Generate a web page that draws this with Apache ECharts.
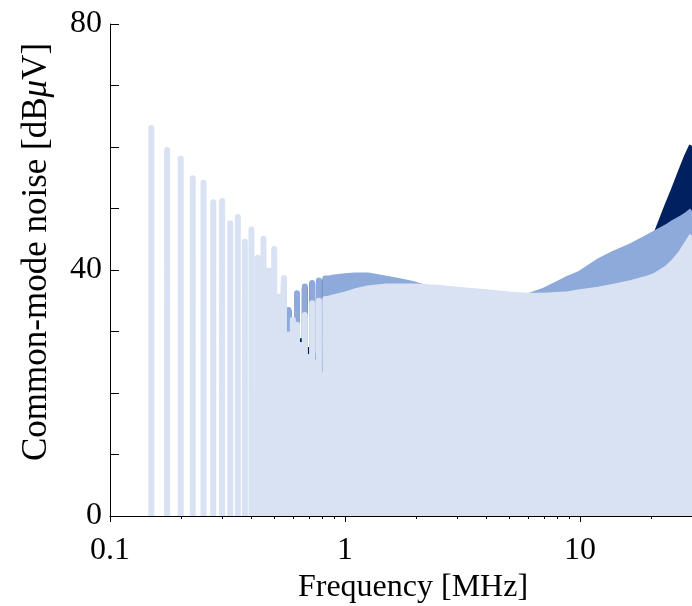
<!DOCTYPE html>
<html>
<head>
<meta charset="utf-8">
<script src="https://cdn.jsdelivr.net/npm/echarts@6/dist/echarts.min.js"></script>
<style>
  html, body { margin: 0; padding: 0; background: #fff; width: 692px; height: 606px; overflow: hidden; }
  #chart { width: 692px; height: 606px; }
</style>
</head>
<body>
<div id="chart"></div>
<script>
// Harmonics of the 25 kHz switching frequency (150 kHz .. 825 kHz)
const harmonicMHz = [0.15, 0.175, 0.2, 0.225, 0.25, 0.275, 0.3, 0.325, 0.35, 0.375,
  0.4, 0.425, 0.45, 0.475, 0.5, 0.525, 0.55, 0.575, 0.6, 0.625, 0.65, 0.675, 0.7,
  0.725, 0.75, 0.775, 0.8, 0.825];

// Harmonic peak levels [dBuV]; null where a trace is hidden behind the others
const lightPeaks  = [63.1, 59.5, 58.1, 54.9, 54.2, 51.0, 51.2, 47.6, 48.6, 44.6,
  46.6, 42.0, 45.1, 39.9, 43.4, 35.7, 38.7, 29.5, 31.9, 31.1, 27.8, 32.7, 25.8,
  34.6, 24.9, 35.0, 22.9, 35.3];
const mediumPeaks = [null, null, null, null, null, null, null, null, null, null,
  null, null, null, null, null, 35.1, 38.1, 33.5, 30.0, 36.2, 27.8, 37.3, 25.8,
  37.9, 26.0, 38.3, 22.9, 38.6];
const darkPeaks   = [null, null, null, null, null, null, null, null, null, null,
  null, null, null, null, null, 34.7, 37.7, 33.2, 29.5, 35.9, 28.4, 37.0, 27.0,
  37.6, 24.5, 38.0, 25.2, 38.3];

// Level the spectrum falls back to after each harmonic
// (0 = down to the noise floor, null = runs on into the broadband part)
const lightFloors  = [0, 0, 0, 0, 0, 0, 0, 0, 0, 0, 20, 20, 20, 20, 20, 20, 20,
  27.0, 27.5, 27.8, 27.8, 25.8, 25.8, 24.9, 24.9, 22.9, 22.9, null];
const mediumFloors = [0, 0, 0, 0, 0, 0, 0, 0, 0, 0, 0, 0, 0, 0, 0,
  19.5, 19.5, 30.0, 30.0, 27.8, 27.8, 25.8, 25.8, 26.0, 26.0, 22.9, 22.9, null];
const darkFloors   = [0, 0, 0, 0, 0, 0, 0, 0, 0, 0, 0, 0, 0, 0, 0,
  19, 19, 29.5, 28.4, 28.4, 28.4, 27.0, 27.0, 24.5, 24.5, 25.2, 25.2, null];

// Broadband part of the spectrum
const envMHz = [0.85, 0.9, 1.0, 1.1, 1.25, 1.5, 1.75, 2.0, 2.2, 2.5, 3.0, 4.0, 5.0,
  6.0, 7.0, 8.7, 10, 12, 14, 16.6, 19, 21, 23.5, 25.1, 26.8, 28.6, 30];
const lightEnv  = [35.3, 35.6, 36.0, 36.5, 37.0, 37.3, 37.3, 37.3, 37.2, 37.1, 36.8,
  36.4, 36.0, 35.8, 35.8, 36.0, 36.4, 36.8, 37.3, 37.9, 38.5, 39.1, 40.3, 41.3, 42.6,
  44.3, 45.6];
const mediumEnv = [38.6, 38.8, 39.0, 39.1, 39.1, 38.6, 38.1, 37.6, 37.1, 36.9, 36.6,
  36.2, 35.8, 35.7, 36.6, 38.4, 39.4, 41.4, 42.7, 43.9, 45.1, 46.0, 47.0, 47.7, 48.3,
  49.0, 49.6];
const darkEnv   = [38.2, 38.4, 38.6, 38.7, 38.7, 38.2, 37.7, 37.2, 36.8, 36.6, 36.3,
  35.9, 35.5, 35.4, 35.6, 36.5, 37.2, 38.5, 40.0, 41.8, 43.6, 45.5, 50.3, 53.0, 55.8,
  58.5, 60.2];

// Axis ticks
const yTickLabels = [0, 40, 80];
const xTickLabels = [0.1, 1, 10];
const xMinorTicks = [0.2, 0.3, 0.4, 0.5, 0.6, 0.7, 0.8, 0.9, 2, 3, 4, 5, 6, 7, 8, 9, 20, 30];

const COLORS = { dark: '#002060', medium: '#8eaadb', light: '#d9e2f3' };
const FONT = '"Liberation Serif", "DejaVu Serif", serif';

// Turn harmonic peaks/floors plus the broadband envelope into one trace
function buildTrace(peaks, floors, env) {
  const pts = [];
  let open = false;
  harmonicMHz.forEach((f, i) => {
    if (peaks[i] === null) return;
    if (!open) pts.push([f, 0]);
    pts.push([f, peaks[i]]);
    const fl = floors[i];
    if (fl === null) { open = true; return; }
    pts.push([f, fl]);
    if (fl <= 0) {
      pts.push([f, null]);
      open = false;
    } else {
      pts.push([harmonicMHz[i + 1], fl]);
      open = true;
    }
  });
  envMHz.forEach((f, i) => pts.push([f, env[i]]));
  return pts;
}

function spectrumSeries(name, color, peaks, floors, env, z) {
  return {
    name, type: 'line', z,
    data: buildTrace(peaks, floors, env),
    symbol: 'none', showSymbol: false, silent: true, animation: false,
    connectNulls: false,
    lineStyle: { color, width: 6, cap: 'butt', join: 'round' },
    areaStyle: { color, opacity: 1 }
  };
}

function matchTick(v, list) {
  return list.find(t => Math.abs(v - t) <= 1e-6 * Math.max(1, t));
}

const chart = echarts.init(document.getElementById('chart'), null, { renderer: 'canvas' });

chart.setOption({
  animation: false,
  backgroundColor: '#fff',
  grid: {
    left: 110, right: 0, top: 24, bottom: 90,
    containLabel: false, outerBoundsMode: 'none'
  },
  xAxis: {
    type: 'log', logBase: 10, min: 0.1, max: 30,
    axisLine: { show: true, lineStyle: { color: '#000', width: 1 } },
    axisTick: { show: false },
    splitLine: { show: false },
    minorTick: { show: false },
    axisLabel: {
      color: '#000', fontFamily: FONT, fontSize: 32, margin: 19,
      formatter: v => {
        const hit = matchTick(v, xTickLabels);
        return hit === undefined ? '' : String(hit);
      }
    },
    name: 'Frequency [MHz]', nameLocation: 'middle', nameGap: 46,
    nameTextStyle: { color: '#000', fontFamily: FONT, fontSize: 32, padding: [0, 0, 0, 24] }
  },
  yAxis: {
    type: 'value', min: 0, max: 80, interval: 10,
    axisLine: { show: true, lineStyle: { color: '#000', width: 1 } },
    axisTick: { show: true, inside: true, length: 9, lineStyle: { color: '#000', width: 1 } },
    splitLine: { show: false },
    axisLabel: {
      color: '#000', fontFamily: FONT, fontSize: 32, margin: 8,
      formatter: v => matchTick(v, yTickLabels) === undefined ? '' : String(v)
    },
    name: 'Common-mode noise [dB{mu|μ}V]', nameLocation: 'middle', nameGap: 56,
    nameRotate: 90,
    nameTextStyle: {
      color: '#000', fontFamily: FONT, fontSize: 35, padding: [0, 0, 0, 36],
      rich: { mu: { fontStyle: 'italic', fontFamily: FONT, fontSize: 35, color: '#000' } }
    }
  },
  series: [
    spectrumSeries('dark', COLORS.dark, darkPeaks, darkFloors, darkEnv, 2),
    spectrumSeries('medium', COLORS.medium, mediumPeaks, mediumFloors, mediumEnv, 3),
    spectrumSeries('light', COLORS.light, lightPeaks, lightFloors, lightEnv, 4),
    {
      // outward frequency ticks on the log axis (decades long, 2..9 short)
      type: 'custom', z: 10, silent: true, animation: false, clip: false,
      data: xTickLabels.map(v => [v, 1]).concat(xMinorTicks.map(v => [v, 0])),
      encode: { x: 0 },
      renderItem: (params, api) => {
        const p = api.coord([api.value(0), 0]);
        const len = api.value(1) ? 6 : 3;
        const x = Math.round(p[0]) + 0.5;
        return {
          type: 'line',
          shape: { x1: x, y1: p[1], x2: x, y2: p[1] + len },
          style: { stroke: '#000', lineWidth: 1 }
        };
      }
    }
  ]
});
</script>
</body>
</html>
